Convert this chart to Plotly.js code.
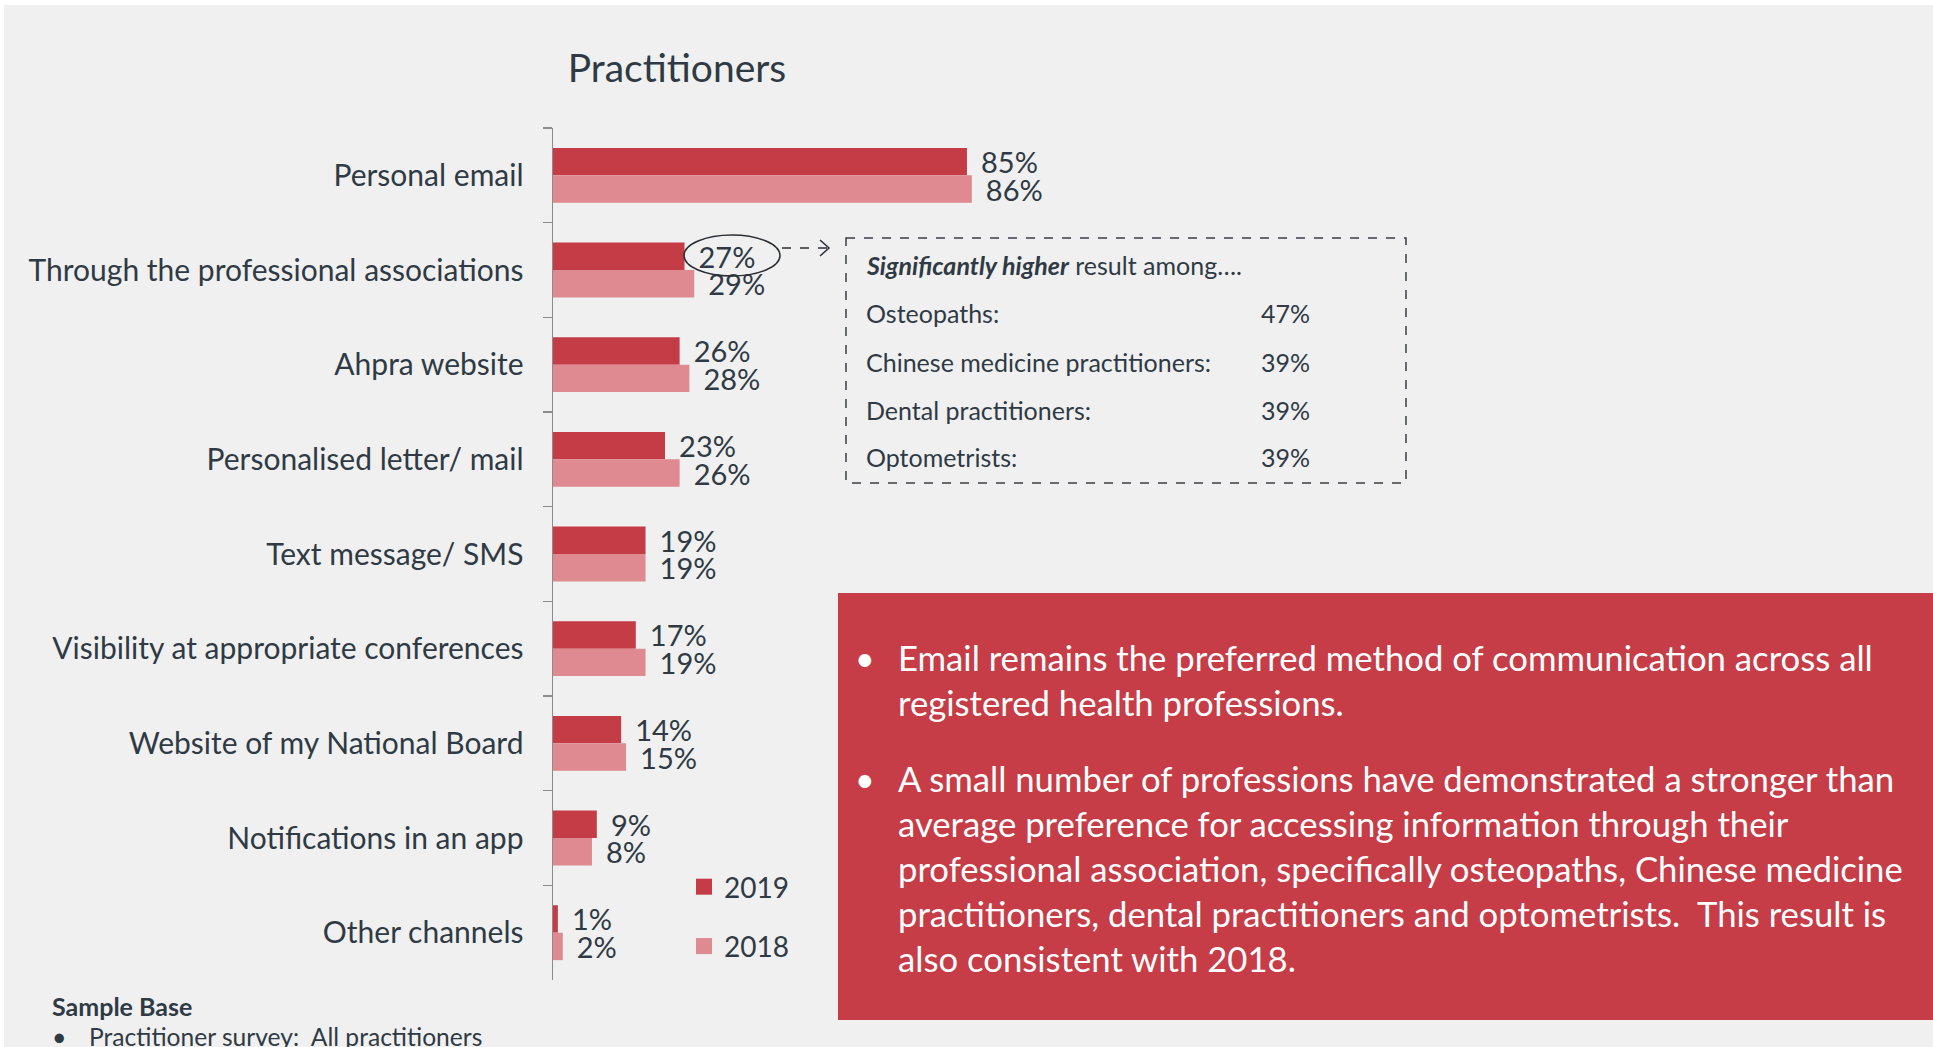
<!DOCTYPE html>
<html>
<head>
<meta charset="utf-8">
<script src="https://cdn.plot.ly/plotly-3.0.1.min.js"></script>
<style>
  html, body { margin: 0; padding: 0; background: #ffffff; }
  #chart { width: 1933px; height: 1047px; }
</style>
</head>
<body>
<div id="chart"></div>
<script>
// channels, top to bottom
let channels = [
  'Personal email',
  'Through the professional associations',
  'Ahpra website',
  'Personalised letter/ mail',
  'Text message/ SMS',
  'Visibility at appropriate conferences',
  'Website of my National Board',
  'Notifications in an app',
  'Other channels'
];
let y2019 = [85, 27, 26, 23, 19, 17, 14, 9, 1];
let y2018 = [86, 29, 28, 26, 19, 19, 15, 8, 2];

let boxHeader = '<b><i>Significantly higher</i></b> result among….';
let boxGroups = ['Osteopaths:', 'Chinese medicine practitioners:', 'Dental practitioners:', 'Optometrists:'];
let boxValues = ['47%', '39%', '39%', '39%'];

let bullet1 = [
  'Email remains the preferred method of communication across all',
  'registered health professions.'
];
let bullet2 = [
  'A small number of professions have demonstrated a stronger than',
  'average preference for accessing information through their',
  'professional association, specifically osteopaths, Chinese medicine',
  'practitioners, dental practitioners and optometrists.  This result is',
  'also consistent with 2018.'
];

let font = 'Lato, "Open Sans", sans-serif';
let ink = '#2f3a44';
let red = '#c43c46';
let pink = '#de8a90';

// plot area in pixels, and pixel -> paper helpers
let L = 553, R = 1040, T = 128, B = 980;
let px = v => (v - L) / (R - L);
let py = v => (B - v) / (B - T);

let pct = '\u00a0\u2009%{x}%';

let trace19 = {
  type: 'bar', orientation: 'h', name: '2019', showlegend: false,
  y: channels, x: y2019,
  marker: {color: red},
  texttemplate: pct, textposition: 'outside', constraintext: 'none', cliponaxis: false,
  textfont: {family: font, size: 29, color: ink},
  hoverinfo: 'skip'
};
let trace18 = {
  type: 'bar', orientation: 'h', name: '2018', showlegend: false,
  y: channels, x: y2018,
  marker: {color: pink},
  texttemplate: pct, textposition: 'outside', constraintext: 'none', cliponaxis: false,
  textfont: {family: font, size: 29, color: ink},
  hoverinfo: 'skip'
};
// legend entries with bigger square keys
let key19 = {type: 'scatter', mode: 'markers', name: '2019', legendgroup: 'a',
  x: [null], y: [null], marker: {symbol: 'square', size: 20, color: red}, hoverinfo: 'skip'};
let key18 = {type: 'scatter', mode: 'markers', name: '2018', legendgroup: 'b',
  x: [null], y: [null], marker: {symbol: 'square', size: 20, color: pink}, hoverinfo: 'skip'};

let annotations = [];
let addText = function(x, y, text, size, color) {
  annotations.push({
    xref: 'paper', yref: 'paper', x: px(x), y: py(y),
    xanchor: 'left', yanchor: 'middle', showarrow: false,
    text: text, font: {family: font, size: size, color: color}
  });
};

// dashed callout box
addText(864, 265, boxHeader, 25, ink);
boxGroups.forEach((g, i) => {
  let yy = [313, 362, 410, 457][i];
  addText(864, yy, g, 25, ink);
  addText(1259, yy, boxValues[i], 25, ink);
});

// red panel bullets
addText(853, 657, '•', 34, '#ffffff');
bullet1.forEach((t, i) => addText(896, 657 + i * 45, t, 34.7, '#ffffff'));
addText(853, 778, '•', 34, '#ffffff');
bullet2.forEach((t, i) => addText(896, 778 + i * 45, t, 34.7, '#ffffff'));

// sample base
addText(50, 1006, '<b>Sample Base</b>', 25, ink);
addText(50, 1036, '•', 25, ink);
addText(87, 1036, 'Practitioner survey:  All practitioners', 24.6, ink);

let shapes = [
  {type: 'rect', xref: 'paper', yref: 'paper', layer: 'below',
   x0: px(4), x1: px(1933), y0: py(5), y1: py(1047),
   fillcolor: '#f0f0f0', line: {width: 0}},
  {type: 'rect', xref: 'paper', yref: 'paper', layer: 'below',
   x0: px(838), x1: px(1933), y0: py(593), y1: py(1020),
   fillcolor: '#c63d47', line: {width: 0}},
  {type: 'rect', xref: 'paper', yref: 'paper',
   x0: px(846), x1: px(1406), y0: py(238), y1: py(483),
   line: {color: '#3a3f45', width: 1.5, dash: 'dash'}},
  {type: 'circle', xref: 'paper', yref: 'paper',
   x0: px(684), x1: px(780), y0: py(235), y1: py(276),
   line: {color: '#2a2f35', width: 1.5}},
  {type: 'line', xref: 'paper', yref: 'paper',
   x0: px(782), x1: px(828), y0: py(248), y1: py(248),
   line: {color: '#2a2f35', width: 1.5, dash: 'dash'}},
  {type: 'path', xref: 'paper', yref: 'paper',
   path: 'M' + px(820) + ',' + py(240) + ' L' + px(829) + ',' + py(248) + ' L' + px(820) + ',' + py(256),
   line: {color: '#2a2f35', width: 1.5}}
];

let layout = {
  width: 1933, height: 1047,
  margin: {l: L, r: 1933 - R, t: T, b: 1047 - B, pad: 0},
  paper_bgcolor: '#ffffff',
  plot_bgcolor: 'rgba(0,0,0,0)',
  title: {
    text: 'Practitioners', font: {family: font, size: 39, color: ink},
    xref: 'container', yref: 'container', x: 677 / 1933, y: 1 - 68 / 1047,
    xanchor: 'center', yanchor: 'middle'
  },
  barmode: 'group', bargap: 0.42, bargroupgap: 0,
  xaxis: {range: [0, 100], visible: false, fixedrange: true},
  yaxis: {
    autorange: 'reversed', type: 'category',
    showline: true, linecolor: '#8c8c8c', linewidth: 1.5,
    ticks: 'outside', tickson: 'boundaries', ticklen: 9, tickcolor: '#8c8c8c', tickwidth: 1.5,
    ticklabelstandoff: 22,
    tickfont: {family: font, size: 30, color: ink},
    showgrid: false, zeroline: false, fixedrange: true
  },
  showlegend: true,
  legend: {
    x: px(684), y: py(862), xanchor: 'left', yanchor: 'top',
    bgcolor: 'rgba(0,0,0,0)', traceorder: 'grouped', tracegroupgap: 20,
    font: {family: font, size: 28, color: ink}
  },
  shapes: shapes,
  annotations: annotations
};

Plotly.newPlot('chart', [trace19, trace18, key19, key18], layout, {displayModeBar: false, staticPlot: true});
</script>
</body>
</html>
